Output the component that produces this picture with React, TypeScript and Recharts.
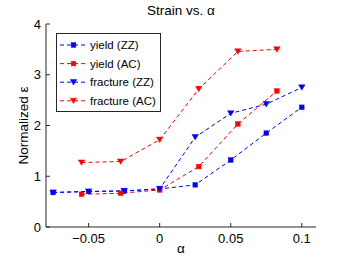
import React from 'react';
import { LineChart, Line, XAxis, YAxis } from 'recharts';

const alphaZZ = [-0.075, -0.05, -0.025, 0, 0.025, 0.05, 0.075, 0.1];
const yieldZZ = [0.68, 0.7, 0.71, 0.75, 0.83, 1.32, 1.85, 2.36];
const fractureZZ = [0.68, 0.7, 0.71, 0.75, 1.77, 2.24, 2.42, 2.75];
const alphaAC = [-0.055, -0.0275, 0, 0.0275, 0.055, 0.0825];
const yieldAC = [0.645, 0.665, 0.73, 1.19, 2.03, 2.68];
const fractureAC = [1.27, 1.29, 1.72, 2.72, 3.46, 3.5];
const xTicks = [-0.05, 0, 0.05, 0.1];
const yTicks = [0, 1, 2, 3, 4];

const BLUE = '#0000ff';
const RED = '#ff0000';
const FONT = '"Liberation Sans", Arial, Helvetica, sans-serif';
const AX = '#262626';

const zip = (xs: number[], ys: number[]) => xs.map((a, i) => ({ a, v: ys[i] }));

const series = [
  { name: 'yield (ZZ)', color: BLUE, marker: 'square', data: zip(alphaZZ, yieldZZ) },
  { name: 'yield (AC)', color: RED, marker: 'square', data: zip(alphaAC, yieldAC) },
  { name: 'fracture (ZZ)', color: BLUE, marker: 'tri', data: zip(alphaZZ, fractureZZ) },
  { name: 'fracture (AC)', color: RED, marker: 'tri', data: zip(alphaAC, fractureAC) },
];

const Marker = ({ cx, cy, color, kind }: any) => {
  if (kind === 'square') {
    return <rect x={cx - 2.3} y={cy - 2.3} width={4.6} height={4.6} fill={color} stroke={color} strokeWidth={0.5} />;
  }
  return (
    <polygon
      points={`${cx - 3.2},${cy - 2.6} ${cx + 3.2},${cy - 2.6} ${cx},${cy + 2.8}`}
      fill={color}
      stroke={color}
      strokeWidth={0.5}
    />
  );
};

const fmtX = (v: number) => (v < 0 ? '\u2212' + String(Math.abs(v)) : String(v));

export default function App() {
  const tickStyle = { fontSize: 13, fontFamily: FONT, fill: '#000' };
  return (
    <div style={{ position: 'absolute', left: 0, top: 0, width: 350, height: 259, background: '#fff' }}>
      <LineChart width={350} height={259} margin={{ top: 24, right: 34, bottom: 12, left: 6 }}>
        <XAxis
          xAxisId="b"
          type="number"
          dataKey="a"
          domain={[-0.08, 0.11]}
          ticks={xTicks}
          tickFormatter={fmtX}
          height={20}
          tickSize={-4}
          tickMargin={11}
          tick={tickStyle}
          stroke={AX}
          allowDataOverflow
        />
        <XAxis
          xAxisId="t"
          orientation="top"
          type="number"
          dataKey="a"
          domain={[-0.08, 0.11]}
          ticks={xTicks}
          tickFormatter={() => ''}
          height={0}
          tickSize={-4}
          stroke={AX}
          allowDataOverflow
        />
        <YAxis
          yAxisId="l"
          type="number"
          domain={[0, 4]}
          ticks={yTicks}
          width={40}
          tickSize={-4}
          tickMargin={9}
          tick={tickStyle}
          stroke={AX}
          allowDataOverflow
        />
        <YAxis
          yAxisId="r"
          orientation="right"
          type="number"
          domain={[0, 4]}
          ticks={yTicks}
          tickFormatter={() => ''}
          width={0}
          tickSize={-4}
          stroke={AX}
          allowDataOverflow
        />
        {series.map((s) => (
          <Line
            key={s.name}
            xAxisId="b"
            yAxisId="l"
            data={s.data}
            dataKey="v"
            type="linear"
            stroke={s.color}
            strokeWidth={1}
            strokeDasharray="4 3"
            isAnimationActive={false}
            activeDot={false}
            legendType="none"
            dot={(p: any) => <Marker key={`${s.name}-${p.index}`} cx={p.cx} cy={p.cy} color={s.color} kind={s.marker} />}
          />
        ))}
      </LineChart>
      <svg width={350} height={259} style={{ position: 'absolute', left: 0, top: 0, pointerEvents: 'none' }}>
        <text x={181} y={15} textAnchor="middle" fontFamily={FONT} fontSize={13.5} fill="#000">
          Strain vs. α
        </text>
        <text x={181} y={253} textAnchor="middle" fontFamily={FONT} fontSize={13.5} fill="#000">
          α
        </text>
        <text
          transform="translate(28,125.5) rotate(-90)"
          textAnchor="middle"
          fontFamily={FONT}
          fontSize={13.5}
          fill="#000"
        >
          Normalized ε
        </text>
        <rect x={56.5} y={33.5} width={104} height={78} fill="#fff" stroke={AX} strokeWidth={1} />
        {series.map((s, i) => {
          const cy = 45 + i * 18.6;
          return (
            <g key={s.name}>
              <line x1={60} x2={87} y1={cy} y2={cy} stroke={s.color} strokeWidth={1} strokeDasharray="4 3" />
              <Marker cx={73.5} cy={cy} color={s.color} kind={s.marker} />
              <text x={90} y={cy + 4} fontFamily={FONT} fontSize={11.5} fill="#000">
                {s.name}
              </text>
            </g>
          );
        })}
      </svg>
    </div>
  );
}
